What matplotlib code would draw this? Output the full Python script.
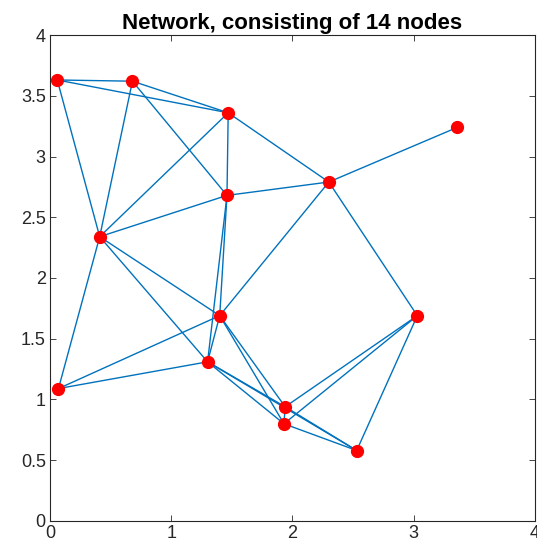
import matplotlib
matplotlib.use('Agg')
import matplotlib.pyplot as plt

# node coordinates
node_x = [0.06, 0.68, 1.47, 3.36, 2.30, 1.46, 0.41, 1.40, 3.03, 1.30, 0.07, 1.94, 1.93, 2.53]
node_y = [3.63, 3.62, 3.36, 3.24, 2.79, 2.68, 2.34, 1.69, 1.69, 1.31, 1.09, 0.94, 0.80, 0.58]

# edges, 1-based node ids
edge_from = [1, 1, 1, 2, 2, 2, 3, 3, 3, 4, 5, 5, 5, 6, 6, 6, 7, 7, 7, 8, 8, 8, 8,
             10, 10, 10, 10, 9, 9, 9, 12, 13, 12]
edge_to   = [2, 3, 7, 3, 7, 6, 7, 6, 5, 5, 6, 8, 9, 7, 8, 10, 8, 10, 11, 11, 10, 12, 13,
             11, 12, 13, 14, 12, 13, 14, 13, 14, 14]

TITLE = 'Network, consisting of 14 nodes'
BLUE = '#0072BD'

plt.rcParams['font.family'] = ['Liberation Sans', 'DejaVu Sans']

fig = plt.figure(figsize=(5.37, 5.56), dpi=100)
ax = fig.add_axes([0.0931, 0.063, 0.903, 0.874])

for a, b in zip(edge_from, edge_to):
    ax.plot([node_x[a - 1], node_x[b - 1]], [node_y[a - 1], node_y[b - 1]],
            color=BLUE, lw=1.0, zorder=2)
ax.plot(node_x, node_y, 'o', color='red', markersize=8.5, mec='red', zorder=3)

ax.set_xlim(0, 4); ax.set_ylim(0, 4)
ax.set_xticks([0, 1, 2, 3, 4])
ax.set_yticks([0, 0.5, 1, 1.5, 2, 2.5, 3, 3.5, 4])
ax.set_yticklabels(['0', '0.5', '1', '1.5', '2', '2.5', '3', '3.5', '4'])
ax.tick_params(direction='in', top=True, right=True, length=4, width=0.6,
               labelsize=13, colors='#262626', pad=3)
for s in ax.spines.values():
    s.set_color('#262626'); s.set_linewidth(0.8)
ax.set_title(TITLE, fontsize=16, fontweight='bold', pad=4)

plt.savefig('out.png', dpi=100)
plt.close()
